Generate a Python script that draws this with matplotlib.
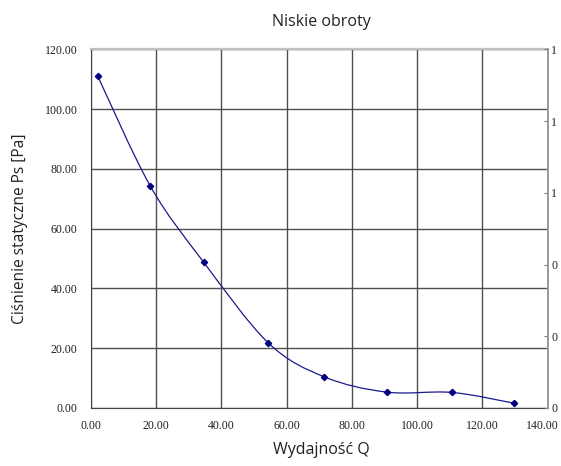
import matplotlib
matplotlib.use("Agg")
import matplotlib.pyplot as plt
import matplotlib.transforms as mtransforms
from matplotlib.path import Path
from matplotlib.patches import PathPatch
from matplotlib.ticker import MultipleLocator, FormatStrFormatter
import numpy as np

# Measured fan characteristic (low speed)
flow_q = [2.1, 18.3, 34.6, 54.4, 71.6, 90.8, 110.7, 129.7]
static_ps = [111.2, 74.2, 48.8, 21.8, 10.4, 5.3, 5.2, 1.6]

title = "Niskie obroty"
xlabel = "Wydajność Q"
ylabel = "Ciśnienie statyczne Ps [Pa]"

line_color = "#1a1a8c"
marker_color = "#000080"
grid_color = "#505050"

fig = plt.figure(figsize=(5.61, 4.66), dpi=100)
ax = fig.add_axes([0.1617, 0.1245, 0.9763 - 0.1617, 0.8938 - 0.1245])

# Smooth curve through the points as cubic Bezier segments (Catmull-Rom tangents)
pts = np.column_stack([flow_q, static_ps])
ext = np.vstack([pts[0], pts, pts[-1]])
verts = [tuple(pts[0])]
codes = [Path.MOVETO]
for i in range(len(pts) - 1):
    p0, p1, p2, p3 = ext[i], ext[i + 1], ext[i + 2], ext[i + 3]
    c1 = p1 + (p2 - p0) / 6.0
    c2 = p2 - (p3 - p1) / 6.0
    verts += [tuple(c1), tuple(c2), tuple(p2)]
    codes += [Path.CURVE4] * 3
ax.add_patch(PathPatch(Path(verts, codes), facecolor="none",
                       edgecolor=line_color, lw=0.9, zorder=3))
ax.plot(flow_q, static_ps, linestyle="none", marker="D", markersize=3.2,
        color=marker_color, zorder=4)

ax.set_xlim(0, 140)
ax.set_ylim(0, 120)
ax.xaxis.set_major_locator(MultipleLocator(20))
ax.yaxis.set_major_locator(MultipleLocator(20))
ax.xaxis.set_major_formatter(FormatStrFormatter("%.2f"))
ax.yaxis.set_major_formatter(FormatStrFormatter("%.2f"))
ax.grid(True, color=grid_color, lw=1.0)
ax.set_axisbelow(True)

serif = "Liberation Serif"
tick_size = 8.6
ax.tick_params(axis="both", length=0, colors="#222222", labelsize=tick_size,
               labelfontfamily=serif)
ax.tick_params(axis="y", pad=9.5)
ax.tick_params(axis="x", pad=9)

for side in ("left", "bottom"):
    ax.spines[side].set_color("#444444")
ax.spines["top"].set_color("#c0c0c0")
ax.spines["top"].set_linewidth(1.6)
ax.spines["right"].set_visible(False)

# Secondary axis on the right (0..1, printed without decimals)
ax2 = ax.twinx()
ax2.set_ylim(0, 1)
ax2.yaxis.set_major_locator(MultipleLocator(0.2))
ax2.yaxis.set_major_formatter(FormatStrFormatter("%.0f"))
ax2.tick_params(axis="y", direction="in", length=3, color="#777777", pad=2.5,
                labelsize=tick_size, labelfontfamily=serif, labelcolor="#222222")
for side in ("left", "top", "bottom"):
    ax2.spines[side].set_visible(False)
ax2.spines["right"].set_color("#999999")
ax2.spines["right"].set_linewidth(1.4)

sans = ["Open Sans", "DejaVu Sans"]
fig.text(0.573, 0.953, title, ha="center", va="center", fontsize=11.5,
         family=sans, color="#222222")
fig.text(0.573, 0.017, xlabel, ha="center", va="bottom", fontsize=11.5,
         family=sans, color="#222222")
fig.text(0.036, 0.51, ylabel, ha="center", va="center", rotation=90,
         fontsize=11.2, family=sans, color="#222222")

# Nudge the x tick label at the right edge so it stays inside the figure
fig.canvas.draw()
shift = mtransforms.ScaledTranslation(-5 / 100, 0, fig.dpi_scale_trans)
for tick in ax.xaxis.get_major_ticks():
    if abs(tick.get_loc() - 140) < 1e-6:
        tick.label1.set_transform(tick.label1.get_transform() + shift)

fig.savefig("out.png", dpi=100)
